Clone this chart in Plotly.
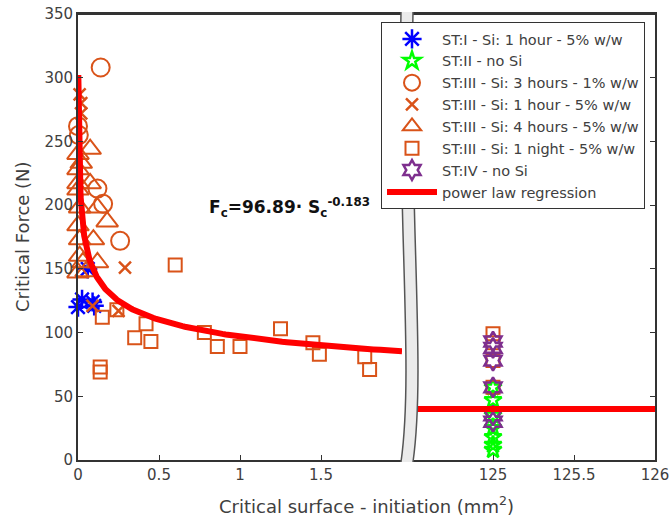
import numpy as np
import plotly.graph_objects as go

# ---------------- data ----------------
# ST:I - Si: 1 hour - 5% w/w
st1_x = [0.0, 0.025, 0.06, 0.09, 0.10]
st1_y = [120, 126, 150, 124, 121]

# ST:II - no Si  (all at S = 125)
st2_x = [125, 125, 125, 125, 125, 125, 125]
st2_y = [57, 47, 35, 25, 18, 12, 8]

# ST:III - Si: 3 hours - 1% w/w
c_x = [0.14, 0.0, 0.005, 0.12, 0.155, 0.26]
c_y = [308, 262, 255, 213, 201, 172]

# ST:III - Si: 1 hour - 5% w/w
x_x = [0.01, 0.02, 0.02, 0.29, 0.09, 0.25]
x_y = [287, 280, 272, 151, 121, 117]

# ST:III - Si: 4 hours - 5% w/w
t_x = [0.075, 0.0, 0.02, 0.0, 0.0, 0.075, 0.0, 0.01, 0.12, 0.18, 0.0, 0.01,
       0.095, 0.01, 0.03, 0.12, 0.0, 0.05]
t_y = [244, 240, 233, 228, 217, 217, 212, 198, 198, 187, 184, 173,
       173, 160, 155, 155, 147, 148]

# ST:III - Si: 1 night - 5% w/w
s_x = [0.60, 0.15, 0.24, 0.42, 0.35, 0.45, 0.137, 0.137, 0.78, 0.86, 1.0,
       1.25, 1.45, 1.49, 1.77, 1.80]
s_y = [153, 112, 118, 107, 96, 93, 73, 69, 100, 89, 89,
       103, 92, 83, 81, 71]
s2_x = [125, 125, 125, 125]
s2_y = [99, 92, 78, 57]

# ST:IV - no Si
st4_x = [125, 125, 125, 125, 125, 125]
st4_y = [93, 88, 78, 57, 35, 30]

# power law regression  Fc = A * Sc^B
A_COEF = 96.89
B_EXP = -0.183
reg_left_x = np.geomspace(0.002, 2.0, 300)
reg_left_y = A_COEF * reg_left_x ** B_EXP
reg_right_x = np.linspace(124.5, 126.0, 20)
reg_right_y = A_COEF * reg_right_x ** B_EXP

x_ticks_left = [0, 0.5, 1, 1.5]
x_ticks_right = [125, 125.5, 126]
y_ticks = [0, 50, 100, 150, 200, 250, 300, 350]

# ---------------- styling ----------------
ORANGE = "#D95319"
BLUE = "#0000FF"
GREEN = "#00FF00"
PURPLE = "#7E2F8E"
RED = "#FF0000"
TXT = "#404040"
AX = "#333333"
FONT = "DejaVu Sans"

W, H = 670, 524
L, R, T, B = 78, 15, 14, 64
PW = W - L - R
PH = H - T - B


def px(xp):
    # screen pixel -> paper
    return (xp - L) / PW


def py(yp):
    return (H - B - yp) / PH


fig = go.Figure()


def mk(symbol, color, size, lw=2):
    return dict(symbol=symbol, size=size, color=color,
                line=dict(color=color, width=lw))


fig.add_trace(go.Scatter(x=st1_x, y=st1_y, mode="markers", name="ST:I - Si: 1 hour - 5% w/w",
                         marker=mk("asterisk-open", BLUE, 16, 2.5), xaxis="x", yaxis="y",
                         cliponaxis=False))
fig.add_trace(go.Scatter(x=st2_x, y=st2_y, mode="markers", name="ST:II - no Si",
                         marker=mk("star-open", GREEN, 13, 2.5), xaxis="x2", yaxis="y2",
                         cliponaxis=False))
fig.add_trace(go.Scatter(x=c_x, y=c_y, mode="markers", name="ST:III - Si: 3 hours - 1% w/w",
                         marker=mk("circle-open", ORANGE, 18), xaxis="x", yaxis="y",
                         cliponaxis=False))
fig.add_trace(go.Scatter(x=x_x, y=x_y, mode="markers", name="ST:III - Si: 1 hour - 5% w/w",
                         marker=mk("x-thin-open", ORANGE, 12, 2.5), xaxis="x", yaxis="y",
                         cliponaxis=False))
fig.add_trace(go.Scatter(x=t_x, y=t_y, mode="markers", name="ST:III - Si: 4 hours - 5% w/w",
                         marker=mk("triangle-up-open", ORANGE, 19), xaxis="x", yaxis="y",
                         cliponaxis=False))
fig.add_trace(go.Scatter(x=s_x, y=s_y, mode="markers", name="ST:III - Si: 1 night - 5% w/w",
                         legendgroup="night",
                         marker=mk("square-open", ORANGE, 13), xaxis="x", yaxis="y",
                         cliponaxis=False))
fig.add_trace(go.Scatter(x=s2_x, y=s2_y, mode="markers", name="ST:III - Si: 1 night - 5% w/w",
                         legendgroup="night", showlegend=False,
                         marker=mk("square-open", ORANGE, 13), xaxis="x2", yaxis="y2",
                         cliponaxis=False))
fig.add_trace(go.Scatter(x=st4_x, y=st4_y, mode="markers", name="ST:IV - no Si",
                         marker=mk("hexagram-open", PURPLE, 15, 2.5), xaxis="x2", yaxis="y2",
                         cliponaxis=False))
fig.add_trace(go.Scatter(x=reg_left_x, y=reg_left_y, mode="lines", name="power law regression",
                         legendgroup="reg",
                         line=dict(color=RED, width=6), xaxis="x", yaxis="y"))
fig.add_trace(go.Scatter(x=reg_right_x, y=reg_right_y, mode="lines", name="power law regression",
                         legendgroup="reg", showlegend=False,
                         line=dict(color=RED, width=6), xaxis="x2", yaxis="y2"))

axis_common = dict(showgrid=False, zeroline=False, showline=True, linecolor=AX, linewidth=1.8,
                   ticks="inside", ticklen=5, tickcolor=AX, tickwidth=1.2, automargin=False,
                   ticklabeloverflow="allow",
                   tickfont=dict(family=FONT, size=15, color=TXT))

d1 = px(402)
d2 = px(412)

fig.update_layout(
    width=W, height=H, autosize=False,
    margin=dict(l=L, r=R, t=T, b=B, pad=0, autoexpand=False),
    plot_bgcolor="white", paper_bgcolor="white",
    xaxis=dict(domain=[0, d1], range=[0, 2.0], tickvals=x_ticks_left,
               ticktext=["0", "0.5", "1", "1.5"], mirror=True, anchor="y", **axis_common),
    xaxis2=dict(domain=[d2, 1], range=[124.5, 126.0], tickvals=x_ticks_right,
                ticktext=["125", "125.5", "126"], mirror=True, anchor="y2", **axis_common),
    yaxis=dict(domain=[0, 1], range=[0, 350], tickvals=y_ticks, anchor="x", side="left",
               **axis_common),
    yaxis2=dict(domain=[0, 1], range=[0, 350], tickvals=y_ticks, anchor="x2", side="right",
                matches="y", showticklabels=False, **axis_common),
    showlegend=True,
    legend=dict(x=px(381), y=py(22), xanchor="left", yanchor="top",
                bgcolor="white", bordercolor=AX, borderwidth=1,
                font=dict(family=FONT, size=14.5, color=TXT), itemwidth=50,
                tracegroupgap=0, traceorder="normal"),
)

# top border of both panels
fig.add_shape(type="line", xref="paper", yref="paper", x0=0, x1=d1, y0=1, y1=1,
              line=dict(color=AX, width=2), layer="above")
fig.add_shape(type="line", xref="paper", yref="paper", x0=d2, x1=1, y0=1, y1=1,
              line=dict(color=AX, width=2), layer="above")

# axis titles
fig.add_annotation(x=0.5, y=py(505), xref="paper", yref="paper", showarrow=False,
                   text="Critical surface - initiation (mm<sup>2</sup>)",
                   font=dict(family=FONT, size=18, color=TXT), xanchor="center", yanchor="middle")
fig.add_annotation(x=px(22), y=0.5, xref="paper", yref="paper", showarrow=False,
                   text="Critical Force (N)", textangle=-90,
                   font=dict(family=FONT, size=18, color=TXT), xanchor="center", yanchor="middle")

# equation
fig.add_annotation(x=px(207), y=py(207), xref="paper", yref="paper", showarrow=False,
                   text="<b>F<sub>c</sub>=96.89· S<sub>c</sub><sup>-0.183</sup></b>",
                   font=dict(family=FONT, size=17, color="#111111"),
                   xanchor="left", yanchor="middle")

# axis break symbol
def break_path(off):
    p0 = (px(401 + off), py(12))
    c1 = (px(397 + off), py(220))
    c2 = (px(414 + off), py(370))
    p3 = (px(401 + off), py(462))
    return p0, c1, c2, p3


a0, a1, a2, a3 = break_path(0)
b0, b1, b2, b3 = break_path(12)
fill_path = (f"M {a0[0]},{a0[1]} C {a1[0]},{a1[1]} {a2[0]},{a2[1]} {a3[0]},{a3[1]} "
             f"L {b3[0]},{b3[1]} C {b2[0]},{b2[1]} {b1[0]},{b1[1]} {b0[0]},{b0[1]} Z")
fig.add_shape(type="path", xref="paper", yref="paper", path=fill_path,
              fillcolor="#EBEBEB", line=dict(width=0), layer="above")
for p0, c1, c2, p3 in (break_path(0), break_path(12)):
    fig.add_shape(type="path", xref="paper", yref="paper",
                  path=f"M {p0[0]},{p0[1]} C {c1[0]},{c1[1]} {c2[0]},{c2[1]} {p3[0]},{p3[1]}",
                  line=dict(color="#555555", width=1.5), layer="above")

fig.write_html("out.html", config={"displayModeBar": False},
               post_script="document.body.style.margin='0';document.body.style.overflow='hidden';")
